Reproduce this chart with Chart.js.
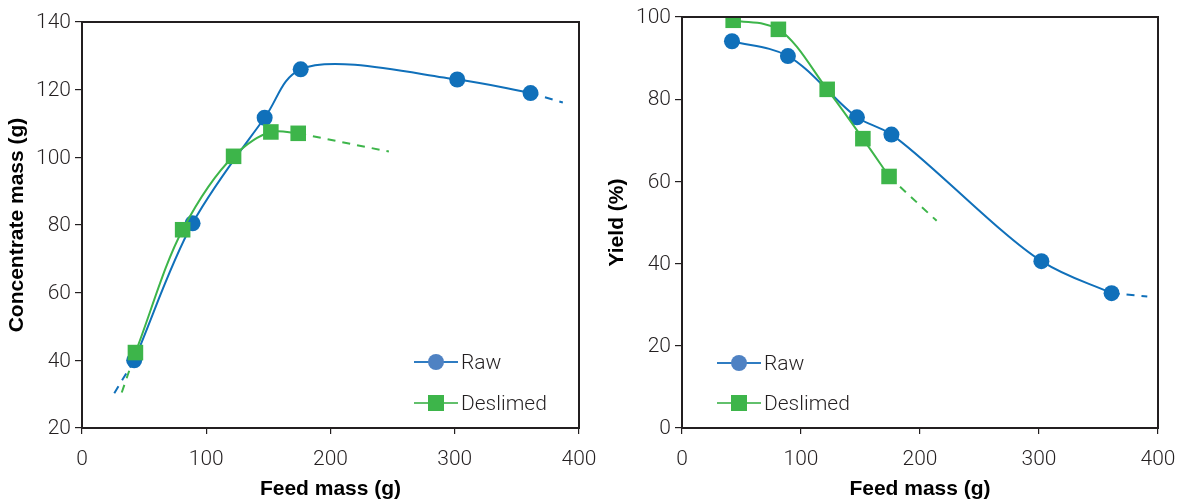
<!DOCTYPE html>
<html>
<head>
<meta charset="utf-8">
<script src="https://cdn.jsdelivr.net/npm/chart.js@4"></script>
<style>
  body { margin: 0; background: #fff; }
  #wrap { position: relative; width: 1189px; height: 502px; }
  canvas { position: absolute; top: 0; }
</style>
</head>
<body>
<div id="wrap">
  <canvas id="massChart" width="600" height="502" style="left:0"></canvas>
  <canvas id="yieldChart" width="589" height="502" style="left:600px"></canvas>
</div>
<script>
// series names
const seriesNames = ["Raw", "Deslimed"];

// feed mass (g) for each test
const feedRaw = [42, 89, 147, 176, 302, 361];
const feedDes = [43, 81, 122, 152, 174];

// concentrate mass (g)
const concRaw = [40, 80.5, 111.7, 126, 123, 119];
const concDes = [42.3, 78.6, 100.3, 107.5, 107.1];

// yield (%)
const yieldRaw = [94.1, 90.5, 75.6, 71.4, 40.6, 32.8];
const yieldDes = [99.2, 97.0, 82.4, 70.4, 61.2];

// dashed trend extensions
const concRawStartX = [26, 42], concRawStartY = [30.3, 40];
const concRawEndX = [361, 387], concRawEndY = [119, 116.2];
const concDesStartX = [32, 43], concDesStartY = [30.5, 42.3];
const concDesEndX = [174, 247], concDesEndY = [107.1, 101.7];
const yieldRawEndX = [361, 391], yieldRawEndY = [32.8, 32.0];
const yieldDesEndX = [174, 214], yieldDesEndY = [61.2, 50.4];

// axes
const feedTicks = [0, 100, 200, 300, 400];
const concTicks = [20, 40, 60, 80, 100, 120, 140];
const yieldTicks = [0, 20, 40, 60, 80, 100];

const BLUE = "#1070ba";
const GREEN = "#3db54a";
const INK = "#231f20";

Chart.defaults.font.family = "'Roboto Light', Roboto, 'Liberation Sans', sans-serif";
Chart.defaults.color = INK;

const pts = (xs, ys) => xs.map((x, i) => ({ x: x, y: ys[i] }));

// centripetal catmull-rom -> bezier control points for one segment
function segCtrl(p0, p1, p2, p3) {
  const d = (a, b) => Math.sqrt(Math.hypot(b.x - a.x, b.y - a.y));
  const d1 = d(p0, p1), d2 = d(p1, p2), d3 = d(p2, p3);
  const c1 = (k) => (d1 * d1 * p2[k] - d2 * d2 * p0[k] + (2 * d1 * d1 + 3 * d1 * d2 + d2 * d2) * p1[k]) / (3 * d1 * (d1 + d2));
  const c2 = (k) => (d3 * d3 * p1[k] - d2 * d2 * p3[k] + (2 * d3 * d3 + 3 * d3 * d2 + d2 * d2) * p2[k]) / (3 * d3 * (d3 + d2));
  return [{ x: c1("x"), y: c1("y") }, { x: c2("x"), y: c2("y") }];
}

const smoothPlugin = {
  id: "smoothLine",
  beforeDatasetsDraw(chart) {
    chart.data.datasets.forEach((ds, di) => {
      if (!ds.smooth) return;
      const meta = chart.getDatasetMeta(di);
      meta.dataset.updateControlPoints(chart.chartArea, meta.indexAxis);
      const p = meta.data;
      const n = p.length;
      const at = (i) => {
        if (i < 0) return { x: 2 * p[0].x - p[1].x, y: 2 * p[0].y - p[1].y };
        if (i >= n) return { x: 2 * p[n - 1].x - p[n - 2].x, y: 2 * p[n - 1].y - p[n - 2].y };
        return { x: p[i].x, y: p[i].y };
      };
      for (let i = 0; i < n - 1; i++) {
        const [a, b] = segCtrl(at(i - 1), at(i), at(i + 1), at(i + 2));
        p[i].cp2x = a.x;
        p[i].cp2y = a.y;
        p[i + 1].cp1x = b.x;
        p[i + 1].cp1y = b.y;
      }
      p[0].cp1x = p[0].x;
      p[0].cp1y = p[0].y;
      p[n - 1].cp2x = p[n - 1].x;
      p[n - 1].cp2y = p[n - 1].y;
      meta.dataset._path = undefined;
    });
  },
};

const framePlugin = {
  id: "frame",
  afterDatasetsDraw(chart) {
    const a = chart.chartArea;
    const ctx = chart.ctx;
    ctx.save();
    ctx.strokeStyle = INK;
    ctx.lineWidth = 2;
    ctx.strokeRect(a.left, a.top, a.right - a.left, a.bottom - a.top);
    ctx.restore();
  },
};

const legendPlugin = {
  id: "insideLegend",
  afterDraw(chart, args, o) {
    const ctx = chart.ctx;
    const a = chart.chartArea;
    const items = [
      { label: seriesNames[0], line: "#2f7cc2", fill: "#4f82c3", shape: "circle" },
      { label: seriesNames[1], line: "#62c06c", fill: GREEN, shape: "square" },
    ];
    items.forEach((it, i) => {
      const x0 = a.left + o.x;
      const y = a.top + o.y + i * o.gap;
      ctx.save();
      ctx.strokeStyle = it.line;
      ctx.lineWidth = 2;
      ctx.beginPath();
      ctx.moveTo(x0, y);
      ctx.lineTo(x0 + 44, y);
      ctx.stroke();
      ctx.fillStyle = it.fill;
      if (it.shape == "circle") {
        ctx.beginPath();
        ctx.arc(x0 + 22, y, 8, 0, Math.PI * 2);
        ctx.fill();
      } else {
        ctx.fillRect(x0 + 14, y - 8, 16, 16);
      }
      ctx.fillStyle = INK;
      ctx.font = "300 21px 'Roboto Light', Roboto";
      ctx.textBaseline = "middle";
      ctx.fillText(it.label, x0 + 47, y + 1);
      ctx.restore();
    });
  },
};

function seriesSet(name, xs, ys, color, style) {
  return {
    label: name,
    data: pts(xs, ys),
    showLine: true,
    smooth: true,
    borderColor: color,
    backgroundColor: color,
    borderWidth: 2,
    tension: 0.4,
    pointStyle: style,
    pointRadius: style == "rect" ? 11 : 8,
    pointBorderWidth: 0,
    pointHoverRadius: style == "rect" ? 11 : 8,
    order: style == "rect" ? 0 : 1,
  };
}

function dashSet(xs, ys, color) {
  return {
    data: pts(xs, ys),
    showLine: true,
    borderColor: color,
    borderWidth: 2,
    borderDash: [8, 7],
    pointRadius: 0,
    order: 2,
  };
}

function axis(min, max, ticks, title, isX) {
  return {
    type: "linear",
    min: min,
    max: max,
    afterBuildTicks: (s) => {
      s.ticks = ticks.map((v) => ({ value: v }));
    },
    afterFit: (s) => {
      if (isX) {
        s.height = 74;
        s.paddingLeft = 0;
        s.paddingRight = 0;
      } else {
        s.width = 82;
        s.paddingTop = 0;
        s.paddingBottom = 0;
      }
    },
    border: { display: false },
    grid: {
      drawOnChartArea: false,
      drawTicks: true,
      tickLength: isX ? 6 : 7,
      color: INK,
      lineWidth: 1.2,
    },
    ticks: {
      font: { size: 21, weight: 300 },
      color: INK,
      padding: isX ? 12 : 4,
    },
    title: {
      display: true,
      text: title,
      color: "#000",
      font: { size: 21, weight: "bold", family: "'Liberation Sans', Arial, sans-serif" },
      padding: isX ? { top: 0, bottom: 0 } : { top: 5, bottom: 0 },
    },
  };
}

function makeChart(id, cfg) {
  return new Chart(document.getElementById(id), {
    type: "scatter",
    data: { datasets: cfg.datasets },
    options: {
      responsive: false,
      animation: false,
      layout: { padding: cfg.padding },
      plugins: {
        legend: { display: false },
        tooltip: { enabled: false },
        insideLegend: cfg.legend,
      },
      scales: {
        x: axis(0, 400, feedTicks, "Feed mass (g)", true),
        y: axis(cfg.yMin, cfg.yMax, cfg.yTicks, cfg.yTitle, false),
      },
    },
    plugins: [smoothPlugin, framePlugin, legendPlugin],
  });
}

makeChart("massChart", {
  datasets: [
    seriesSet(seriesNames[1], feedDes, concDes, GREEN, "rect"),
    seriesSet(seriesNames[0], feedRaw, concRaw, BLUE, "circle"),
    dashSet(concRawStartX, concRawStartY, BLUE),
    dashSet(concRawEndX, concRawEndY, BLUE),
    dashSet(concDesStartX, concDesStartY, GREEN),
    dashSet(concDesEndX, concDesEndY, GREEN),
  ],
  yMin: 20,
  yMax: 140,
  yTicks: concTicks,
  yTitle: "Concentrate mass (g)",
  padding: { left: 0, top: 22, right: 21, bottom: 0 },
  legend: { x: 332, y: 340, gap: 41 },
});

makeChart("yieldChart", {
  datasets: [
    seriesSet(seriesNames[1], feedDes, yieldDes, GREEN, "rect"),
    seriesSet(seriesNames[0], feedRaw, yieldRaw, BLUE, "circle"),
    dashSet(yieldRawEndX, yieldRawEndY, BLUE),
    dashSet(yieldDesEndX, yieldDesEndY, GREEN),
  ],
  yMin: 0,
  yMax: 100,
  yTicks: yieldTicks,
  yTitle: "Yield (%)",
  padding: { left: 0, top: 17, right: 31, bottom: 0 },
  legend: { x: 35, y: 346, gap: 40 },
});
</script>
</body>
</html>
